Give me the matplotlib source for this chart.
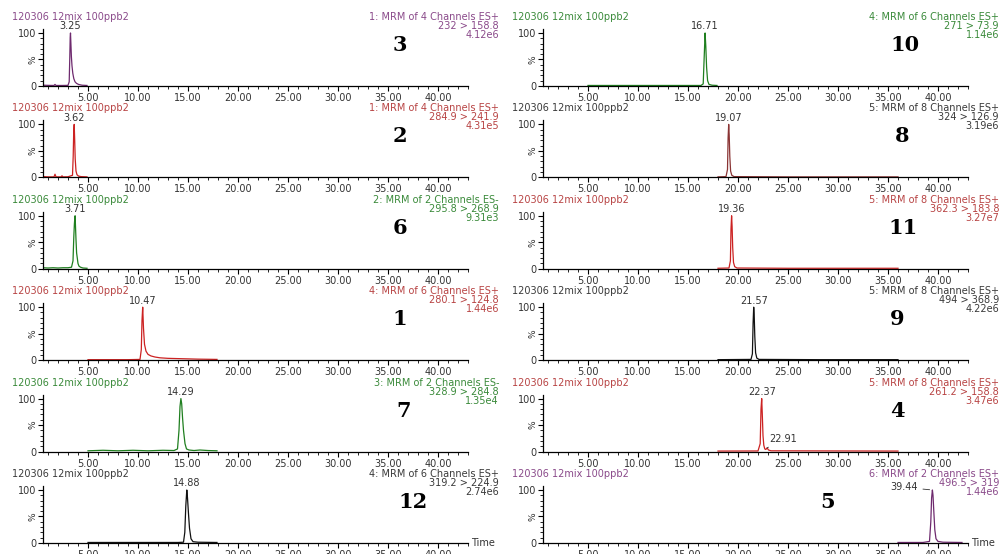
import matplotlib.pyplot as plt
from matplotlib.ticker import MultipleLocator, FixedLocator

# Sample header shared by every trace
sample_name = "120306 12mix 100ppb2"

# Compound numbers, left column then right column (top to bottom)
compounds = [3, 2, 6, 1, 7, 12, 10, 8, 11, 9, 4, 5]
functions = ["1: MRM of 4 Channels ES+", "1: MRM of 4 Channels ES+",
             "2: MRM of 2 Channels ES-", "4: MRM of 6 Channels ES+",
             "3: MRM of 2 Channels ES-", "4: MRM of 6 Channels ES+",
             "4: MRM of 6 Channels ES+", "5: MRM of 8 Channels ES+",
             "5: MRM of 8 Channels ES+", "5: MRM of 8 Channels ES+",
             "5: MRM of 8 Channels ES+", "6: MRM of 2 Channels ES+"]
transitions = ["232 > 158.8", "284.9 > 241.9", "295.8 > 268.9", "280.1 > 124.8",
               "328.9 > 284.8", "319.2 > 224.9", "271 > 73.9", "324 > 126.9",
               "362.3 > 183.8", "494 > 368.9", "261.2 > 158.8", "496.5 > 319"]
max_counts = ["4.12e6", "4.31e5", "9.31e3", "1.44e6", "1.35e4", "2.74e6",
              "1.14e6", "3.19e6", "3.27e7", "4.22e6", "3.47e6", "1.44e6"]

# Retention times labelled on each trace
peak_rts = [[3.25], [3.62], [3.71], [10.47], [14.29], [14.88],
            [16.71], [19.07], [19.36], [21.57], [22.37, 22.91], [39.44]]

# Traces: time (min) and relative intensity (%)
t_c3 = [0.5, 1.0, 1.6, 1.7, 1.8, 2.4, 3.0, 3.12, 3.18, 3.22, 3.25, 3.29, 3.34,
        3.40, 3.48, 3.58, 3.70, 3.85, 4.05, 4.4, 4.9]
i_c3 = [1.5, 1.2, 1.0, 3.0, 1.0, 1.0, 1.2, 8, 55, 92, 100, 80, 55,
        38, 24, 14, 8, 5, 3, 1.5, 1.0]

t_c2 = [0.5, 1.0, 1.6, 1.7, 1.8, 2.3, 2.4, 2.5, 3.0, 3.45, 3.52, 3.57, 3.62,
        3.67, 3.72, 3.80, 3.90, 4.05, 4.3, 4.9]
i_c2 = [1.5, 1.0, 1.0, 6, 1.0, 1.0, 3, 1.0, 1.2, 4, 40, 85, 100,
        70, 35, 12, 5, 2.5, 1.5, 1.0]

t_c6 = [0.5, 1.0, 1.5, 2.0, 2.5, 3.0, 3.35, 3.50, 3.58, 3.64, 3.68, 3.71, 3.75,
        3.80, 3.86, 3.93, 4.0, 4.1, 4.25, 4.5, 4.9]
i_c6 = [2, 1.5, 2, 1.5, 2, 2, 3, 15, 60, 85, 95, 100, 80,
        55, 30, 20, 10, 5, 3, 1.5, 1.0]

t_c1 = [5.0, 7.0, 9.0, 10.2, 10.33, 10.40, 10.47, 10.55, 10.65, 10.8, 11.0,
        11.3, 11.7, 12.2, 13.0, 14.0, 15.0, 16.0, 17.9]
i_c1 = [1.0, 1.0, 1.0, 1.5, 20, 75, 100, 60, 30, 17, 11,
        8, 6, 4.5, 3.5, 3, 2.5, 2, 1.5]

t_c7 = [5.0, 6.5, 8.0, 9.5, 11.0, 12.5, 13.6, 13.95, 14.1, 14.2, 14.29, 14.37,
        14.45, 14.55, 14.7, 14.85, 15.1, 15.6, 16.2, 17.0, 17.9]
i_c7 = [1.5, 2.5, 1.5, 2.5, 1.5, 2.5, 2, 5, 40, 85, 100, 90,
        65, 40, 15, 5, 3, 2, 3, 2, 1.5]

t_c12 = [5.0, 9.0, 14.0, 14.55, 14.68, 14.78, 14.88, 14.95, 15.05, 15.15, 15.3,
         15.5, 16.0, 17.9]
i_c12 = [1, 1, 1, 1.5, 20, 70, 100, 85, 55, 28, 8, 2.5, 1.5, 1]

t_c10 = [5.0, 10.0, 16.3, 16.52, 16.62, 16.71, 16.78, 16.86, 16.96, 17.1, 17.4, 17.9]
i_c10 = [1, 1, 1, 4, 55, 100, 75, 35, 10, 3, 1.5, 1]

t_c8 = [18.0, 18.8, 18.95, 19.01, 19.07, 19.12, 19.18, 19.26, 19.38, 19.6, 25.0, 36.0]
i_c8 = [1, 1.5, 15, 75, 100, 80, 40, 12, 4, 1.5, 1, 1]

t_c11 = [18.0, 19.1, 19.24, 19.30, 19.36, 19.41, 19.47, 19.55, 19.67, 19.9, 25.0, 36.0]
i_c11 = [1, 1.5, 15, 75, 100, 80, 40, 12, 4, 1.5, 1, 1]

t_c9 = [18.0, 21.3, 21.44, 21.51, 21.57, 21.62, 21.68, 21.76, 21.88, 22.1, 28.0, 36.0]
i_c9 = [1, 1.5, 12, 70, 100, 85, 45, 14, 4, 1.5, 1, 1]

t_c4 = [18.0, 22.0, 22.22, 22.30, 22.37, 22.43, 22.50, 22.58, 22.68, 22.78, 22.91,
        23.05, 23.3, 36.0]
i_c4 = [1, 1.2, 15, 80, 100, 70, 30, 12, 5, 4, 7, 3, 1.5, 1]

t_c5 = [36.0, 38.5, 39.15, 39.28, 39.36, 39.44, 39.50, 39.58, 39.68, 39.8, 40.0,
        40.5, 42.4]
i_c5 = [1, 1, 3, 40, 85, 100, 90, 60, 25, 8, 3, 1.5, 1]

times = [t_c3, t_c2, t_c6, t_c1, t_c7, t_c12, t_c10, t_c8, t_c11, t_c9, t_c4, t_c5]
levels = [i_c3, i_c2, i_c6, i_c1, i_c7, i_c12, i_c10, i_c8, i_c11, i_c9, i_c4, i_c5]

# trace colour / header text colour
PURPLE, PURPLE_T = "#6e2a6e", "#8a4a8a"
RED, RED_T = "#cc2222", "#b84444"
GREEN, GREEN_T = "#1f7f1f", "#3a8a3a"
BLACK, BLACK_T = "#111111", "#3a3a3a"
MAROON = "#8a3434"
line_colors = [PURPLE, RED, GREEN, RED, GREEN, BLACK,
               GREEN, MAROON, RED, BLACK, RED, PURPLE]
text_colors = [PURPLE_T, RED_T, GREEN_T, RED_T, GREEN_T, BLACK_T,
               GREEN_T, BLACK_T, RED_T, BLACK_T, RED_T, PURPLE_T]

# pixel centre x of the big compound numbers
number_px = [400, 400, 400, 400, 404, 413, 905, 902, 903, 897, 897, 828]

W, H = 999, 554
FS = 7
fig = plt.figure(figsize=(W / 100, H / 100), dpi=100)
SANS = "DejaVu Sans"

for k in range(12):
    col, row = divmod(k, 6)
    x0 = 43 + 500 * col
    x1 = 468 + 500 * col
    zero = 86 + 91.4 * row
    top = zero - 57
    ax = fig.add_axes([x0 / W, 1 - zero / H, (x1 - x0) / W, (zero - top) / H])

    ax.plot(times[k], levels[k], color=line_colors[k], lw=0.9)
    ax.set_xlim(0.5, 43.0)
    ax.set_ylim(0, 107.5)

    for side in ("top", "right"):
        ax.spines[side].set_visible(False)
    for side in ("left", "bottom"):
        ax.spines[side].set_linewidth(0.9)

    ax.xaxis.set_major_locator(FixedLocator([5, 10, 15, 20, 25, 30, 35, 40]))
    ax.xaxis.set_minor_locator(MultipleLocator(1))
    ax.set_xticklabels([f"{v:.2f}" for v in [5, 10, 15, 20, 25, 30, 35, 40]])
    ax.yaxis.set_major_locator(FixedLocator([0, 50, 100]))
    ax.yaxis.set_minor_locator(MultipleLocator(10))
    ax.set_yticklabels(["0", "", "100"])
    ax.tick_params(which="major", length=3.5, width=0.8, pad=1.5,
                   labelsize=FS, labelcolor="#333333")
    ax.tick_params(which="minor", length=2, width=0.6)
    for lbl in ax.get_xticklabels() + ax.get_yticklabels():
        lbl.set_fontfamily(SANS)
    ax.text(-0.024, 0.465, "%", transform=ax.transAxes, rotation=90,
            ha="center", va="center", fontsize=6.5, family=SANS, color="#333333")

    # peak retention time labels
    for j, rt in enumerate(peak_rts[k]):
        h = max(v for t, v in zip(times[k], levels[k]) if abs(t - rt) < 0.05)
        if k == 10 and j == 1:
            ax.annotate(f"{rt:.2f}", xy=(rt, h), xytext=(rt + 0.2, h + 16),
                        fontsize=FS, family=SANS, color="#333333",
                        ha="left", va="center",
                        arrowprops=dict(arrowstyle="-", color="#333333", lw=0.6))
        elif k == 11:
            ax.annotate(f"{rt:.2f}", xy=(rt, h), xytext=(rt - 1.5, h + 5),
                        fontsize=FS, family=SANS, color="#333333",
                        ha="right", va="center",
                        arrowprops=dict(arrowstyle="-", color="#333333", lw=0.6))
        else:
            ax.annotate(f"{rt:.2f}", xy=(rt, h), xytext=(0, 1.2),
                        textcoords="offset points", fontsize=FS, family=SANS,
                        color="#333333", ha="center", va="bottom")

    # header lines
    fig.text((12 + 500 * col) / W, 1 - (zero - 69) / H, sample_name,
             fontsize=FS, family=SANS, color=text_colors[k], va="center")
    rx = (499 + 500 * col) / W
    for line, dy in zip([functions[k], transitions[k], max_counts[k]], [69, 60, 51]):
        fig.text(rx, 1 - (zero - dy) / H, line, fontsize=FS, family=SANS,
                 color=text_colors[k], ha="right", va="center")

    fig.text(number_px[k] / W, 1 - (zero - 41) / H, str(compounds[k]),
             fontsize=15, family="DejaVu Serif", fontweight="bold", color="black",
             ha="center", va="center")

    if row == 5:
        fig.text((x1 + 3) / W, 1 - zero / H, "Time", fontsize=FS, family=SANS,
                 color="#333333", ha="left", va="center")

fig.savefig("out.png", dpi=100, facecolor="white")
